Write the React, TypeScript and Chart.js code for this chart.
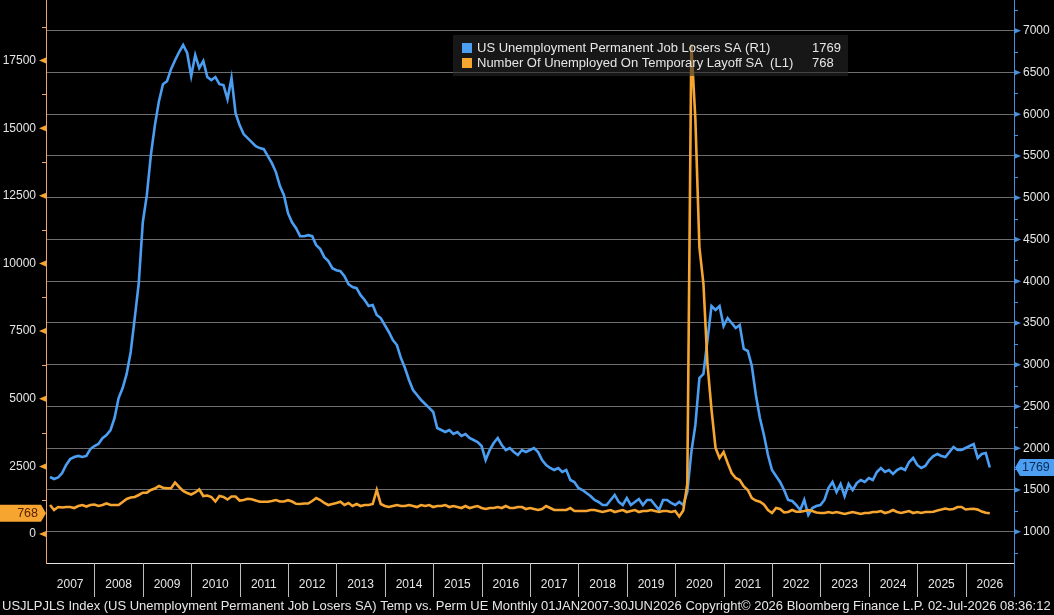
import React, { useEffect, useRef } from "react";
import { Chart, registerables } from "chart.js";

Chart.register(...registerables);

// ---------- data ----------
const YEAR_LABELS = [
  "2007", "2008", "2009", "2010", "2011", "2012", "2013", "2014", "2015", "2016",
  "2017", "2018", "2019", "2020", "2021", "2022", "2023", "2024", "2025", "2026",
];

// US Unemployment Permanent Job Losers SA (R1), thousands, monthly Jan 2007 - Jun 2026
const PERMANENT_LOSERS = [
  1655, 1631, 1649, 1703, 1799, 1871, 1895, 1907, 1895, 1907, 1990, 2026,
  2050, 2120, 2158, 2218, 2362, 2601, 2721, 2889, 3152, 3559, 3978, 4706,
  5030, 5510, 5870, 6155, 6360, 6395, 6540, 6647, 6745, 6829, 6733, 6458,
  6709, 6553, 6637, 6445, 6409, 6445, 6360, 6349, 6181, 6433, 6013, 5870,
  5762, 5714, 5666, 5618, 5594, 5582, 5498, 5414, 5307, 5140, 5030, 4815,
  4706, 4635, 4539, 4539, 4551, 4539, 4431, 4384, 4288, 4240, 4156, 4132,
  4120, 4060, 3964, 3929, 3917, 3833, 3775, 3703, 3715, 3595, 3559, 3475,
  3392, 3296, 3236, 3080, 2960, 2817, 2697, 2637, 2577, 2530, 2482, 2434,
  2242, 2218, 2194, 2218, 2170, 2194, 2146, 2170, 2122, 2098, 2074, 2026,
  1859, 1978, 2062, 2122, 2038, 1978, 2002, 1954, 1918, 1978, 1954, 1978,
  2002, 1954, 1859, 1799, 1763, 1739, 1763, 1715, 1739, 1619, 1595, 1523,
  1499, 1463, 1427, 1380, 1356, 1320, 1320, 1380, 1440, 1356, 1320, 1403,
  1320, 1356, 1391, 1320, 1380, 1380, 1320, 1260, 1380, 1380, 1344, 1320,
  1356, 1320, 1475, 1954, 2278, 2841, 2889, 3296, 3703, 3655, 3703, 3463,
  3559, 3499, 3439, 3475, 3188, 3164, 2984, 2637, 2362, 2158, 1918, 1739,
  1667, 1595, 1499, 1380, 1368, 1320, 1260, 1380, 1200, 1284, 1308, 1320,
  1380, 1523, 1595, 1475, 1571, 1427, 1571, 1499, 1583, 1619, 1595, 1643,
  1619, 1715, 1763, 1715, 1739, 1691, 1739, 1763, 1739, 1835, 1883, 1799,
  1763, 1787, 1859, 1907, 1930, 1907, 1895, 1954, 2014, 1978, 1978, 2002,
  2026, 2050, 1883, 1930, 1942, 1769,
];

// Number Of Unemployed On Temporary Layoff SA (L1), thousands
const TEMPORARY_LAYOFF = [
  1072, 887, 998, 980, 998, 998, 961, 1035, 1072, 1017, 1072, 1091,
  1035, 1072, 1128, 1072, 1072, 1072, 1183, 1294, 1349, 1368, 1442, 1527,
  1527, 1627, 1682, 1775, 1708, 1689, 1689, 1904, 1738, 1590, 1516, 1460,
  1534, 1645, 1405, 1423, 1368, 1201, 1405, 1368, 1275, 1386, 1386, 1238,
  1257, 1301, 1287, 1238, 1194, 1194, 1194, 1220, 1257, 1201, 1201, 1250,
  1201, 1117, 1109, 1128, 1128, 1220, 1331, 1257, 1146, 1072, 1109, 1146,
  1194, 1072, 1146, 1035, 1109, 1035, 1072, 1072, 1109, 1627, 1109, 1035,
  998, 1035, 1072, 1035, 1035, 1072, 1035, 998, 1072, 1035, 1072, 998,
  1035, 1035, 1072, 998, 1035, 998, 961, 1035, 961, 998, 1035, 961,
  924, 961, 961, 998, 961, 1035, 961, 961, 998, 998, 924, 961,
  924, 887, 924, 1035, 961, 887, 887, 887, 887, 961, 850, 850,
  850, 850, 887, 887, 850, 813, 850, 887, 813, 850, 887, 813,
  850, 887, 813, 850, 850, 887, 850, 813, 850, 850, 813, 850,
  650, 870, 1850, 18100, 15340, 10600, 9250, 6285, 4600, 3180, 2810, 3030,
  2625, 2255, 2070, 1996, 1756, 1627, 1331, 1238, 1194, 1091, 887, 776,
  961, 924, 795, 813, 887, 824, 824, 850, 887, 850, 795, 776,
  776, 813, 776, 813, 776, 739, 776, 813, 776, 739, 776, 776,
  813, 813, 850, 776, 813, 887, 813, 776, 813, 850, 776, 813,
  776, 813, 813, 824, 865, 902, 943, 906, 924, 998, 998, 906,
  924, 932, 902, 828, 784, 768,
];

const LEFT_TICKS = [0, 2500, 5000, 7500, 10000, 12500, 15000, 17500];
const RIGHT_TICKS = [1000, 1500, 2000, 2500, 3000, 3500, 4000, 4500, 5000, 5500, 6000, 6500, 7000];
const LEFT_MIN = -1072;
const LEFT_MAX = 19741;
const RIGHT_MIN = 625;
const RIGHT_MAX = 7368;

const PERM_LABEL = "US Unemployment Permanent Job Losers SA (R1)";
const TEMP_LABEL = "Number Of Unemployed On Temporary Layoff SA  (L1)";
const FOOTER =
  "USJLPJLS Index (US Unemployment Permanent Job Losers SA) Temp vs. Perm UE Monthly 01JAN2007-30JUN2026 Copyright\u00a9 2026 Bloomberg Finance L.P. 02-Jul-2026 08:36:12";

// ---------- style ----------
const FONT = "'Liberation Sans', Arial, sans-serif";
const BLUE = "#4b9ef2";
const ORANGE = "#f6a530";
const LEFT_AXIS = "#eea468";
const RIGHT_AXIS = "#4a8fdc";
const GRID = "#6e6e6e";
const TEXT = "#e6e6e6";
const SEP = "#bdbdbd";

function triangle(ctx: CanvasRenderingContext2D, ax: number, ay: number, bx: number, h: number) {
  ctx.beginPath();
  ctx.moveTo(ax, ay);
  ctx.lineTo(bx, ay - h);
  ctx.lineTo(bx, ay + h);
  ctx.closePath();
  ctx.fill();
}

const decorPlugin = {
  id: "decor",
  afterDraw(chart: any) {
    const { ctx, chartArea, scales } = chart;
    const x = scales.x;
    const yL = scales.yL;
    const yR = scales.yR;
    const L = chartArea.left;
    const R = chartArea.right;
    const B = chartArea.bottom;
    ctx.save();

    // year separators below the plot
    ctx.strokeStyle = SEP;
    ctx.lineWidth = 1;
    for (let k = 1; k < YEAR_LABELS.length; k++) {
      const px = Math.round(x.getPixelForValue(12 * k)) + 0.5;
      ctx.beginPath();
      ctx.moveTo(px, B);
      ctx.lineTo(px, B + 34);
      ctx.stroke();
    }
    // right axis line continues down
    ctx.strokeStyle = RIGHT_AXIS;
    ctx.beginPath();
    ctx.moveTo(Math.round(R) + 0.5, B);
    ctx.lineTo(Math.round(R) + 0.5, B + 34);
    ctx.stroke();

    // left axis ticks
    ctx.fillStyle = ORANGE;
    for (const v of LEFT_TICKS) triangle(ctx, L - 7, yL.getPixelForValue(v), L, 3);
    ctx.strokeStyle = LEFT_AXIS;
    for (let v = Math.ceil(LEFT_MIN / 1250) * 1250; v <= LEFT_MAX; v += 1250) {
      if (v % 2500 === 0) continue;
      const py = Math.round(yL.getPixelForValue(v)) + 0.5;
      ctx.beginPath();
      ctx.moveTo(L - 4, py);
      ctx.lineTo(L, py);
      ctx.stroke();
    }
    // right axis ticks
    ctx.fillStyle = RIGHT_AXIS;
    for (const v of RIGHT_TICKS) triangle(ctx, R + 7, yR.getPixelForValue(v), R, 3);
    ctx.strokeStyle = RIGHT_AXIS;
    for (let v = Math.ceil(RIGHT_MIN / 250) * 250; v <= RIGHT_MAX; v += 250) {
      if (v % 500 === 0) continue;
      const py = Math.round(yR.getPixelForValue(v)) + 0.5;
      ctx.beginPath();
      ctx.moveTo(R, py);
      ctx.lineTo(R + 4, py);
      ctx.stroke();
    }

    // legend box
    const lastPerm = PERMANENT_LOSERS[PERMANENT_LOSERS.length - 1];
    const lastTemp = TEMPORARY_LAYOFF[TEMPORARY_LAYOFF.length - 1];
    ctx.fillStyle = "rgba(40,40,40,0.58)";
    ctx.fillRect(453, 35, 395, 41);
    ctx.font = `13px ${FONT}`;
    ctx.textBaseline = "middle";
    ctx.textAlign = "left";
    ctx.fillStyle = BLUE;
    ctx.fillRect(462, 43, 10, 10);
    ctx.fillStyle = ORANGE;
    ctx.fillRect(462, 58, 10, 10);
    ctx.fillStyle = TEXT;
    ctx.fillText(PERM_LABEL, 477, 48.5);
    ctx.fillText(TEMP_LABEL, 477, 63.5);
    ctx.fillText(String(lastPerm), 812, 48.5);
    ctx.fillText(String(lastTemp), 812, 63.5);

    // last value tags
    ctx.font = `12.5px ${FONT}`;
    const ty = yL.getPixelForValue(lastTemp);
    ctx.fillStyle = ORANGE;
    ctx.beginPath();
    ctx.moveTo(0, ty - 8.5);
    ctx.lineTo(L - 5, ty - 8.5);
    ctx.lineTo(L, ty);
    ctx.lineTo(L - 5, ty + 8.5);
    ctx.lineTo(0, ty + 8.5);
    ctx.closePath();
    ctx.fill();
    ctx.fillStyle = "#5a2200";
    ctx.textAlign = "right";
    ctx.fillText(String(lastTemp), L - 8, ty + 0.5);

    const py = yR.getPixelForValue(lastPerm);
    ctx.fillStyle = BLUE;
    ctx.beginPath();
    ctx.moveTo(R + 1, py);
    ctx.lineTo(R + 6, py - 8.5);
    ctx.lineTo(1054, py - 8.5);
    ctx.lineTo(1054, py + 8.5);
    ctx.lineTo(R + 6, py + 8.5);
    ctx.closePath();
    ctx.fill();
    ctx.fillStyle = "#0b2a52";
    ctx.textAlign = "left";
    ctx.fillText(String(lastPerm), R + 8, py + 0.5);

    // footer
    ctx.font = `12px ${FONT}`;
    const w = ctx.measureText(FOOTER).width;
    const size = (12 * 1049) / w;
    ctx.font = `${size.toFixed(2)}px ${FONT}`;
    ctx.fillStyle = TEXT;
    ctx.textAlign = "left";
    ctx.fillText(FOOTER, 2, 606);

    ctx.restore();
  },
};

export default function App() {
  const ref = useRef<HTMLCanvasElement>(null);

  useEffect(() => {
    document.body.style.margin = "0";
    document.body.style.background = "#000";
    const canvas = ref.current;
    if (!canvas) return;

    const chart = new Chart(canvas, {
      type: "line",
      data: {
        datasets: [
          {
            label: PERM_LABEL,
            data: PERMANENT_LOSERS.map((v, i) => ({ x: i + 1, y: v })),
            yAxisID: "yR",
            borderColor: BLUE,
            borderWidth: 2.6,
            pointRadius: 0,
            tension: 0,
            order: 2,
          },
          {
            label: TEMP_LABEL,
            data: TEMPORARY_LAYOFF.map((v, i) => ({ x: i + 1, y: v })),
            yAxisID: "yL",
            borderColor: ORANGE,
            borderWidth: 2.6,
            pointRadius: 0,
            tension: 0,
            order: 1,
          },
        ],
      },
      options: {
        responsive: false,
        animation: false,
        devicePixelRatio: 1,
        layout: { padding: 0 },
        plugins: {
          legend: { display: false },
          tooltip: { enabled: false },
          title: { display: false },
        },
        scales: {
          x: {
            type: "linear",
            position: "bottom",
            min: 0,
            max: YEAR_LABELS.length * 12,
            grid: { display: false, drawTicks: false },
            border: { display: true, color: "#e2e2e2", width: 1 },
            afterBuildTicks: (s: any) => {
              s.ticks = YEAR_LABELS.map((_, i) => ({ value: 6 + 12 * i }));
            },
            ticks: {
              autoSkip: false,
              maxRotation: 0,
              padding: 14,
              color: TEXT,
              font: { family: FONT, size: 12 },
              callback: (v: any) => YEAR_LABELS[Math.round((Number(v) - 6) / 12)],
            },
            afterFit: (s: any) => {
              s.height = 52;
              s.paddingLeft = 0;
              s.paddingRight = 0;
            },
          },
          yL: {
            type: "linear",
            position: "left",
            min: LEFT_MIN,
            max: LEFT_MAX,
            grid: { display: false, drawTicks: false },
            border: { display: true, color: LEFT_AXIS, width: 1 },
            afterBuildTicks: (s: any) => {
              s.ticks = LEFT_TICKS.map((v) => ({ value: v }));
            },
            ticks: {
              padding: 10,
              color: TEXT,
              font: { family: FONT, size: 12 },
              callback: (v: any) => String(v),
            },
            afterFit: (s: any) => {
              s.width = 46;
              s.paddingTop = 0;
              s.paddingBottom = 0;
            },
          },
          yR: {
            type: "linear",
            position: "right",
            min: RIGHT_MIN,
            max: RIGHT_MAX,
            grid: { display: true, drawOnChartArea: true, drawTicks: false, color: GRID, lineWidth: 1 },
            border: { display: true, color: RIGHT_AXIS, width: 1 },
            afterBuildTicks: (s: any) => {
              s.ticks = RIGHT_TICKS.map((v) => ({ value: v }));
            },
            ticks: {
              padding: 9,
              color: TEXT,
              font: { family: FONT, size: 12 },
              callback: (v: any) => String(v),
            },
            afterFit: (s: any) => {
              s.width = 40;
              s.paddingTop = 0;
              s.paddingBottom = 0;
            },
          },
        },
      } as any,
      plugins: [decorPlugin],
    });

    return () => chart.destroy();
  }, []);

  return (
    <div style={{ width: 1054, height: 615, background: "#000" }}>
      <canvas ref={ref} width={1054} height={615} style={{ display: "block", width: 1054, height: 615 }} />
    </div>
  );
}
